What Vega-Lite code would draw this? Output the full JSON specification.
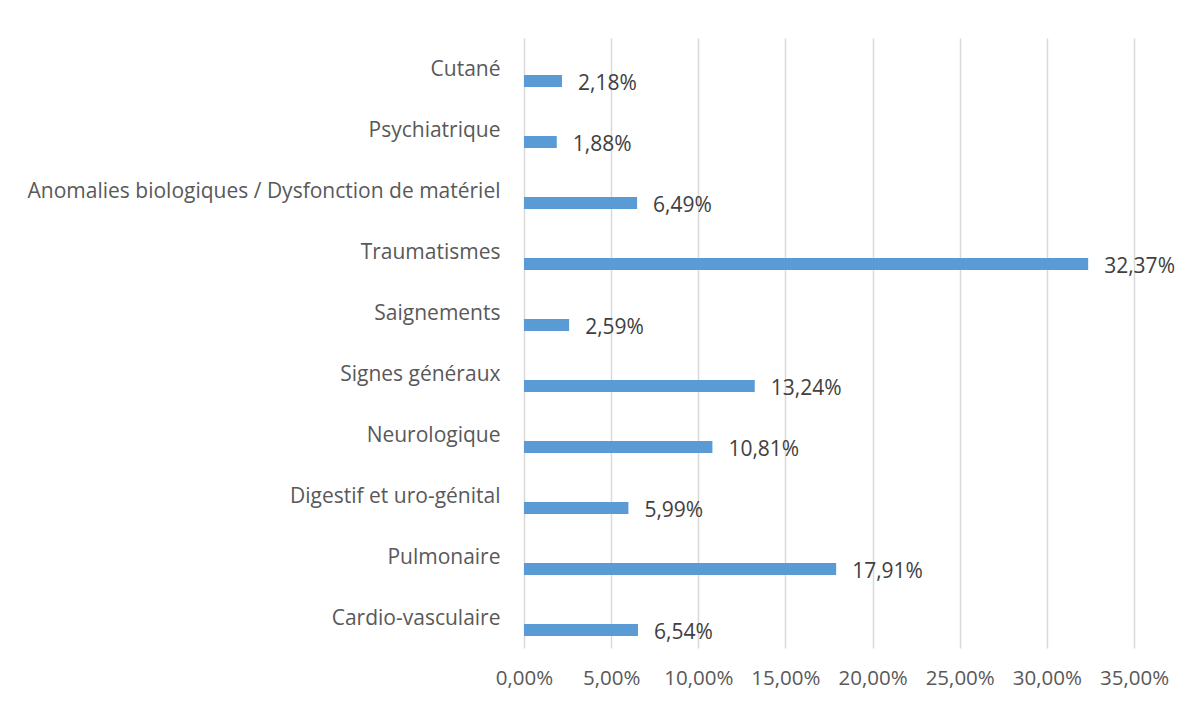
{
  "$schema": "https://vega.github.io/schema/vega-lite/v6.json",
  "width": 610,
  "height": 610,
  "autosize": {"type": "none"},
  "padding": {"left": 524, "top": 38, "right": 55, "bottom": 54},
  "background": "white",
  "config": {
    "locale": {"number": {"decimal": ",", "thousands": " ", "grouping": [3], "currency": ["", " €"]}},
    "view": {"stroke": null},
    "font": "Open Sans",
    "text": {"font": "Open Sans"}
  },
  "data": {
    "values": [
      {"categorie": "Cutané", "pct": 0.0218},
      {"categorie": "Psychiatrique", "pct": 0.0188},
      {"categorie": "Anomalies biologiques / Dysfonction de matériel", "pct": 0.0649},
      {"categorie": "Traumatismes", "pct": 0.3237},
      {"categorie": "Saignements", "pct": 0.0259},
      {"categorie": "Signes généraux", "pct": 0.1324},
      {"categorie": "Neurologique", "pct": 0.1081},
      {"categorie": "Digestif et uro-génital", "pct": 0.0599},
      {"categorie": "Pulmonaire", "pct": 0.1791},
      {"categorie": "Cardio-vasculaire", "pct": 0.0654}
    ]
  },
  "encoding": {
    "y": {
      "field": "categorie",
      "type": "nominal",
      "sort": null,
      "scale": {"paddingInner": 0, "paddingOuter": 0},
      "axis": {
        "title": null,
        "domain": false,
        "ticks": false,
        "grid": false,
        "labelPadding": 24,
        "labelOffset": 1.5,
        "labelFont": "Open Sans",
        "labelFontSize": 21,
        "labelColor": "#595959",
        "labelLimit": 600
      }
    },
    "x": {
      "field": "pct",
      "type": "quantitative",
      "scale": {"domain": [0, 0.35], "nice": false},
      "axis": {
        "title": null,
        "format": ".2%",
        "values": [0, 0.05, 0.1, 0.15, 0.2, 0.25, 0.3, 0.35],
        "domain": false,
        "ticks": false,
        "grid": true,
        "gridColor": "#d9d9d9",
        "gridWidth": 1.5,
        "labelPadding": 20,
        "labelFont": "Open Sans",
        "labelFontSize": 20.5,
        "labelColor": "#595959",
        "labelFlush": false
      }
    }
  },
  "layer": [
    {
      "mark": {"type": "bar", "size": 12, "yOffset": 12.5, "color": "#5b9bd5"}
    },
    {
      "mark": {"type": "text", "align": "left", "baseline": "middle", "dx": 16, "yOffset": 15, "fontSize": 21, "color": "#404040", "font": "Open Sans"},
      "encoding": {
        "text": {"field": "pct", "type": "quantitative", "format": ".2%"}
      }
    }
  ]
}
